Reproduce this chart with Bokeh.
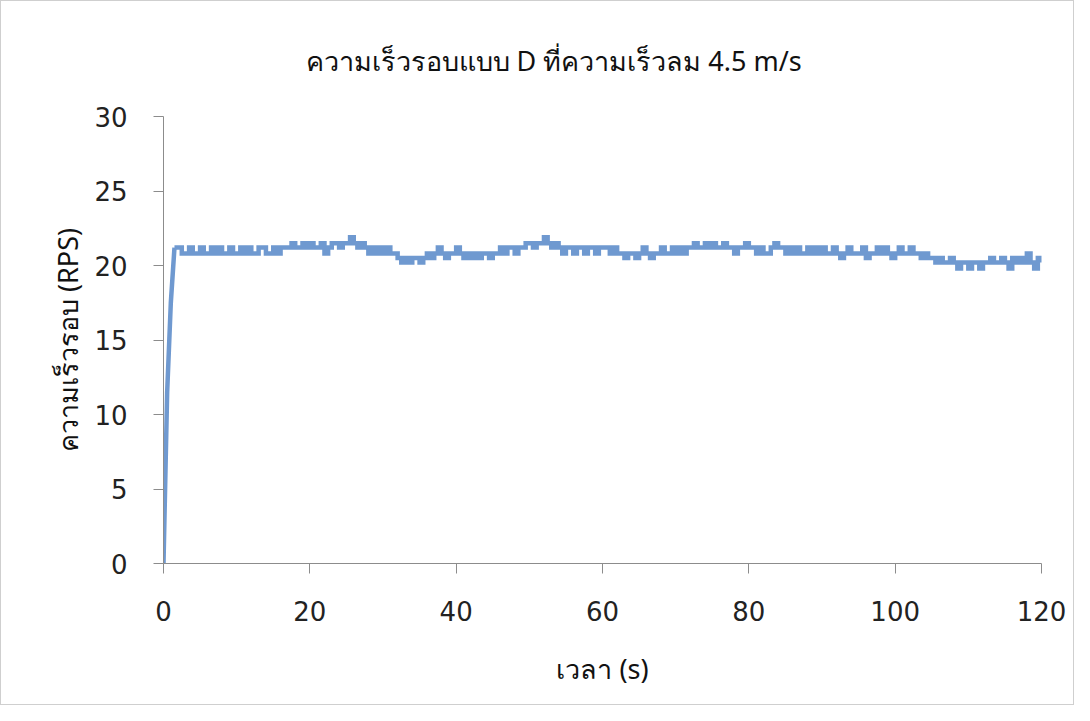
import numpy as np
from bokeh.plotting import figure
from bokeh.models import Range1d, FixedTicker
from bokeh.embed import file_html
from bokeh.resources import INLINE

title_text = "ความเร็วรอบแบบ D ที่ความเร็วลม 4.5 m/s"
x_label = "เวลา (s)"
y_label = "ความเร็วรอบ (RPS)"

x_ticks = [0, 20, 40, 60, 80, 100, 120]
y_ticks = [0, 5, 10, 15, 20, 25, 30]

# time step of sampled readings (s)
dt = 0.5
rpm_values = [
    0, 11.5, 17.5, 21.2, 21.2, 20.8, 20.8, 21.2, 20.8, 20.8, 21.2, 20.8, 20.8, 21.2, 20.8, 21.2, 20.8, 20.8, 21.2, 20.8,
    20.8, 21.2, 20.8, 21.2, 20.8, 20.8, 21.2, 21.2, 20.8, 20.8, 21.2, 20.8, 21.2, 21.2, 21.2, 21.5, 21.2, 21.2, 21.5, 21.2,
    21.5, 21.2, 21.2, 21.5, 20.8, 21.2, 21.5, 21.5, 21.2, 21.5, 21.5, 21.9, 21.5, 21.2, 21.5, 21.2, 20.8, 21.2, 20.8, 21.2,
    20.8, 21.2, 20.8, 20.8, 20.5, 20.2, 20.5, 20.2, 20.5, 20.5, 20.2, 20.5, 20.8, 20.5, 20.8, 21.2, 20.8, 20.5, 20.8, 20.8,
    21.2, 20.8, 20.5, 20.8, 20.5, 20.8, 20.5, 20.8, 20.8, 20.5, 20.8, 20.8, 21.2, 20.8, 21.2, 21.2, 20.8, 21.2, 21.2, 21.5,
    21.5, 21.2, 21.5, 21.5, 21.9, 21.5, 21.2, 21.5, 21.2, 20.8, 21.2, 21.2, 20.8, 21.2, 21.2, 20.8, 21.2, 21.2, 20.8, 21.2,
    21.2, 21.2, 20.8, 21.2, 20.8, 20.8, 20.5, 20.8, 20.8, 20.5, 20.8, 21.2, 20.8, 20.5, 20.8, 20.8, 21.2, 20.8, 20.8, 21.2,
    20.8, 21.2, 20.8, 21.2, 21.2, 21.5, 21.2, 21.2, 21.5, 21.2, 21.5, 21.2, 21.2, 21.5, 21.2, 21.2, 20.8, 21.2, 21.2, 21.5,
    21.2, 21.2, 20.8, 21.2, 20.8, 20.8, 21.2, 21.5, 21.2, 21.2, 20.8, 21.2, 20.8, 21.2, 20.8, 20.8, 21.2, 20.8, 21.2, 20.8,
    21.2, 20.8, 20.8, 21.2, 20.8, 20.5, 20.8, 21.2, 20.8, 20.8, 20.8, 21.2, 20.5, 20.8, 20.8, 21.2, 20.8, 21.2, 20.8, 20.5,
    20.8, 21.2, 20.8, 20.8, 21.2, 20.8, 20.8, 20.5, 20.8, 20.5, 20.5, 20.2, 20.5, 20.2, 20.2, 20.5, 20.2, 19.8, 20.2, 20.2,
    19.8, 20.2, 20.2, 19.8, 20.2, 20.2, 20.5, 20.2, 20.2, 20.5, 20.2, 19.8, 20.5, 20.2, 20.5, 20.2, 20.8, 20.2, 19.8, 20.5,
    20.2,
]
times = np.arange(len(rpm_values)) * dt

line_color = "#6f99d0"
font_num = "DejaVu Sans"
font_thai = "Noto Sans"

p = figure(width=1074, height=705, output_backend="svg", toolbar_location=None,
           x_range=Range1d(0, 120), y_range=Range1d(0, 30),
           min_border_left=162, min_border_right=34, min_border_top=115, min_border_bottom=143)

p.title.text = title_text
p.title.align = "left"
p.title.offset = 142
p.title.text_font = font_thai
p.title.text_font_size = "27px"
p.title.text_font_style = "normal"
p.title.text_color = "#111111"
p.title.standoff = 76

p.line(times[:4], rpm_values[:4], line_color=line_color, line_width=4.5)
p.step(times[3:], rpm_values[3:], mode="after", line_color=line_color, line_width=4.5,
       line_join="miter")

p.xgrid.visible = False
p.ygrid.visible = False
p.outline_line_color = None

p.xaxis.ticker = FixedTicker(ticks=x_ticks)
p.yaxis.ticker = FixedTicker(ticks=y_ticks)
for ax in (p.xaxis[0], p.yaxis[0]):
    ax.axis_line_color = "#8c8c8c"
    ax.major_tick_line_color = "#8c8c8c"
    ax.minor_tick_line_color = None
    ax.major_tick_in = 0
    ax.major_tick_out = 10
    ax.major_label_text_font = font_num
    ax.major_label_text_font_size = "26px"
    ax.major_label_text_color = "#222222"
    ax.axis_label_text_font = font_thai
    ax.axis_label_text_font_size = "27px"
    ax.axis_label_text_font_style = "normal"
    ax.axis_label_text_color = "#111111"

p.xaxis.axis_label = x_label
p.yaxis.axis_label = y_label
p.xaxis.major_label_standoff = 27
p.yaxis.major_label_standoff = 26
p.xaxis.axis_label_standoff = 26
p.yaxis.axis_label_standoff = 5

p.styles = {"border": "1px solid #cfcfcf"}

open("out.html", "w").write(file_html(p, INLINE))
